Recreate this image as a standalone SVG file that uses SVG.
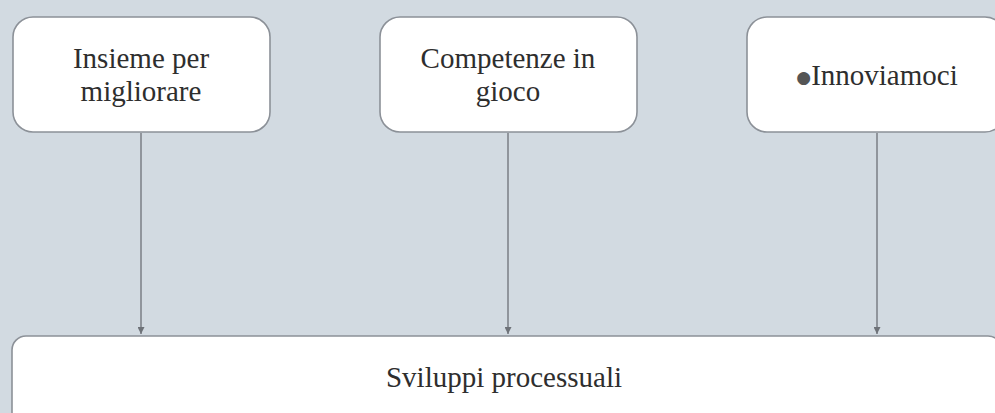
<svg xmlns="http://www.w3.org/2000/svg" width="995" height="413" viewBox="0 0 995 413">
<style>
.box{fill:#ffffff;stroke:#8c9198;stroke-width:1.6}
.t{font-family:"Liberation Serif","Times New Roman",serif;font-size:29px;fill:#2e2e2e;text-anchor:middle}
.c{stroke:#7a7e84;stroke-width:1.5;fill:none}
</style>
<defs>
<marker id="ah" viewBox="0 0 10 10" refX="10" refY="5" markerWidth="7" markerHeight="7" markerUnits="userSpaceOnUse" orient="auto">
<path d="M0,0 L10,5 L0,10 z" fill="#6e7278"/>
</marker>
</defs>
<rect width="995" height="413" fill="#d2dae1"/>
<g id="connectors">
<line class="c" x1="141" y1="133" x2="141" y2="334" marker-end="url(#ah)"/>
<line class="c" x1="508" y1="133" x2="508" y2="334" marker-end="url(#ah)"/>
<line class="c" x1="877" y1="133" x2="877" y2="334" marker-end="url(#ah)"/>
</g>
<g id="node1">
<rect class="box" x="13" y="17" width="257" height="115" rx="20"/>
<text class="t" x="141" y="68">Insieme per</text>
<text class="t" x="141" y="101">migliorare</text>
</g>
<g id="node2">
<rect class="box" x="380" y="17" width="257" height="115" rx="20"/>
<text class="t" x="508" y="68">Competenze in</text>
<text class="t" x="508" y="101">gioco</text>
</g>
<g id="node3">
<rect class="box" x="747" y="17" width="258" height="115" rx="20"/>
<text class="t" x="877" y="85"><tspan font-size="17" font-family="DejaVu Sans, sans-serif" fill="#555" dy="-2">●</tspan><tspan dy="2">Innoviamoci</tspan></text>
</g>
<g id="node4">
<rect class="box" x="12" y="336" width="990" height="90" rx="14"/>
<text class="t" x="504" y="387">Sviluppi processuali</text>
</g>
</svg>
